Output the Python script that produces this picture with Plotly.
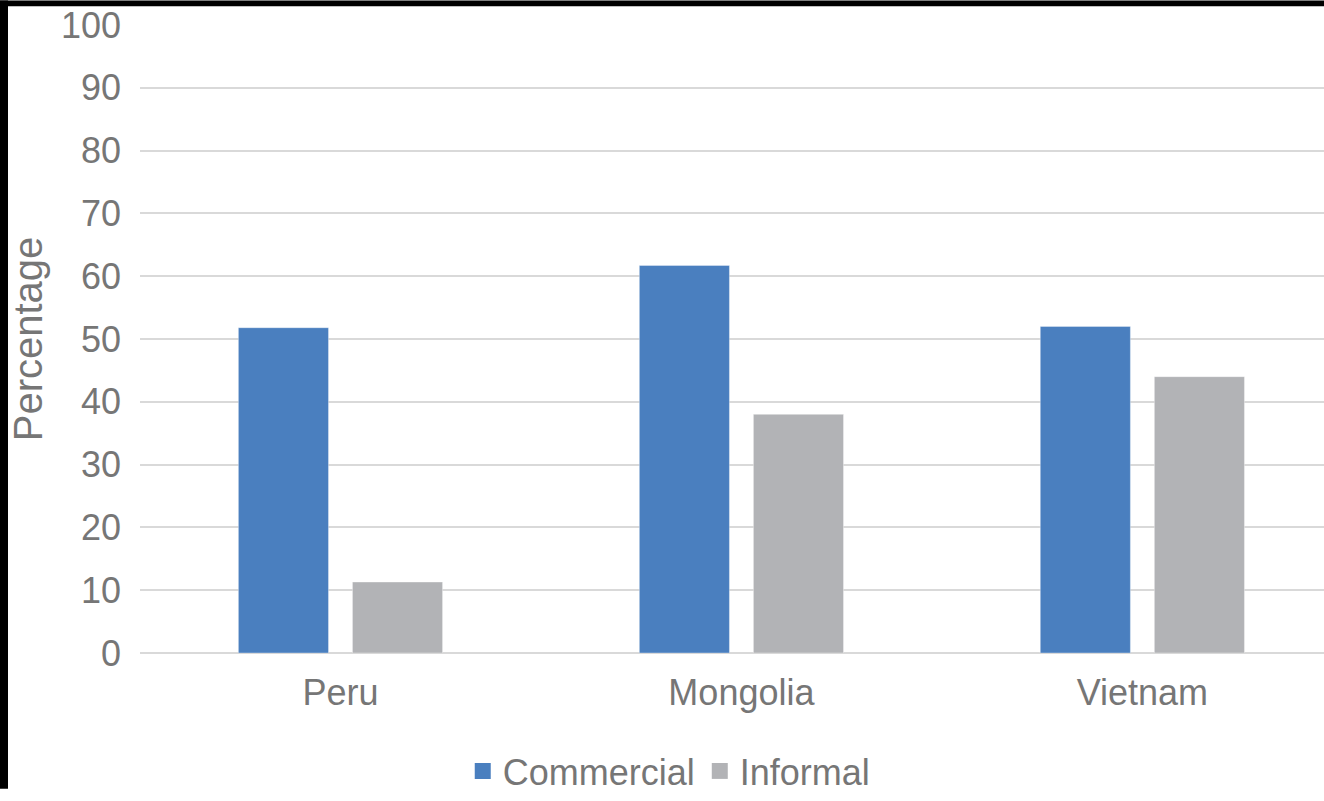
import plotly.graph_objects as go

categories = ["Peru", "Mongolia", "Vietnam"]
commercial = [51.8, 61.7, 52.0]
informal = [11.3, 38.0, 44.0]
series_names = ["Commercial", "Informal"]
y_ticks = [0, 10, 20, 30, 40, 50, 60, 70, 80, 90, 100]

BLUE = "#4a7fbf"
GRAY = "#b2b3b6"
TXT = "#767676"
FONT = "Liberation Sans, Arial, sans-serif"

fig = go.Figure()
for name, vals, col in [(series_names[0], commercial, BLUE), (series_names[1], informal, GRAY)]:
    fig.add_trace(go.Bar(x=categories, y=vals, name=name, showlegend=False,
                         marker=dict(color=col, line=dict(color="rgba(255,255,255,0.35)", width=1))))
for name, col in [(series_names[0], BLUE), (series_names[1], GRAY)]:
    fig.add_trace(go.Scatter(x=[None], y=[None], mode="markers", name=name,
                             marker=dict(symbol="square", size=20, color=col)))

W, H = 1324, 801
ml, mt, mb = 140, 25, 138
fig.update_layout(
    width=W, height=H,
    margin=dict(l=ml, r=0, t=mt, b=mb, pad=0),
    paper_bgcolor="white", plot_bgcolor="white",
    barmode="group", bargap=0.431, bargroupgap=0.21,
    font=dict(family=FONT, color=TXT, size=36),
    legend=dict(orientation="h", x=0.447, xanchor="center", y=-0.188, yanchor="middle",
                font=dict(size=36, color=TXT), itemsizing="trace", tracegroupgap=0,
                itemwidth=30, bgcolor="rgba(0,0,0,0)"),
    xaxis=dict(range=[-0.5, 2.453], showgrid=False, zeroline=False, showline=False,
               ticks="", ticklabelstandoff=15, tickfont=dict(size=36, color=TXT), automargin=False),
    yaxis=dict(range=[0, 100], tickvals=y_ticks, showgrid=True, gridcolor="#d9d9d9", gridwidth=2,
               zeroline=True, zerolinecolor="#d9d9d9", zerolinewidth=2, showline=False, ticks="",
               ticklabelstandoff=18, tickfont=dict(size=36, color=TXT), automargin=False,
               title=dict(text="Percentage", font=dict(size=40, color=TXT), standoff=5)),
)

pw = W - ml
ph = H - mt - mb
def px2x(px):
    return (px - ml) / pw
def py2y(py):
    return (H - mb - py) / ph

fig.add_shape(type="rect", xref="paper", yref="paper", x0=px2x(0), x1=px2x(W), y0=py2y(6), y1=py2y(0),
              fillcolor="black", line=dict(width=0), layer="above")
fig.add_shape(type="rect", xref="paper", yref="paper", x0=px2x(0), x1=px2x(8), y0=py2y(H), y1=py2y(0),
              fillcolor="black", line=dict(width=0), layer="above")

fig.write_html("out.html")
